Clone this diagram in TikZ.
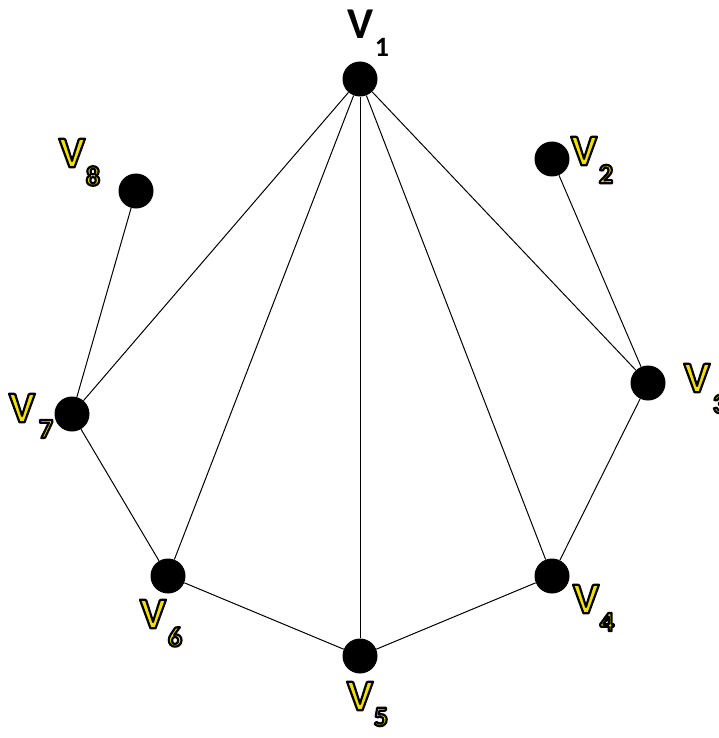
\documentclass[tikz,border=0pt]{standalone}
\usepackage{fontspec}
\setmainfont{Carlito}
\definecolor{wordyellow}{RGB}{245,225,0}
\tikzset{
  vtx/.style={circle,fill=black,minimum size=35pt,inner sep=0pt},
  edge/.style={line width=1pt,black},
  bigv/.style={inner sep=0pt,font=\fontsize{44}{44}\selectfont\bfseries},
  subv/.style={inner sep=0pt,font=\fontsize{28}{28}\selectfont\bfseries},
}
\newcommand{\yl}[1]{\textcolor{wordyellow}{\special{pdf:literal direct 2 Tr 2.2 w 1 j 0 0 0 RG}#1\special{pdf:literal direct 0 Tr}}}
\begin{document}
\begin{tikzpicture}[x=1pt,y=-1pt]
\useasboundingbox (0,0) rectangle (719,738);
\node[vtx] (v1) at (360,79) {};
\node[vtx] (v2) at (552,159) {};
\node[vtx] (v3) at (648,383) {};
\node[vtx] (v4) at (552,576) {};
\node[vtx] (v5) at (360,656) {};
\node[vtx] (v6) at (168,576) {};
\node[vtx] (v7) at (72,414) {};
\node[vtx] (v8) at (136,191) {};
\draw[edge] (v1) -- (v7);
\draw[edge] (v1) -- (v6);
\draw[edge] (v1) -- (v5);
\draw[edge] (v1) -- (v4);
\draw[edge] (v1) -- (v3);
\draw[edge] (v2) -- (v3);
\draw[edge] (v3) -- (v4);
\draw[edge] (v4) -- (v5);
\draw[edge] (v5) -- (v6);
\draw[edge] (v6) -- (v7);
\draw[edge] (v7) -- (v8);
% labels
\node[bigv] (l1) at (361,24) {V};
\node[subv] (s1) at (382,47) {1};
\node[bigv] (l2) at (584,151) {\yl{V}};
\node[subv] (s2) at (606,174) {\yl{2}};
\node[bigv] (l3) at (697,378) {\yl{V}};
\node[subv] (s3) at (720,404) {\yl{3}};
\node[bigv] (l4) at (586,599) {\yl{V}};
\node[subv] (s4) at (607,622) {\yl{4}};
\node[bigv] (l5) at (360,696) {\yl{V}};
\node[subv] (s5) at (381,717) {\yl{5}};
\node[bigv] (l6) at (153,614) {\yl{V}};
\node[subv] (s6) at (175,637) {\yl{6}};
\node[bigv] (l7) at (22,408) {\yl{V}};
\node[subv] (s7) at (46,429) {\yl{7}};
\node[bigv] (l8) at (72,153) {\yl{V}};
\node[subv] (s8) at (93,176) {\yl{8}};
\end{tikzpicture}
\end{document}
